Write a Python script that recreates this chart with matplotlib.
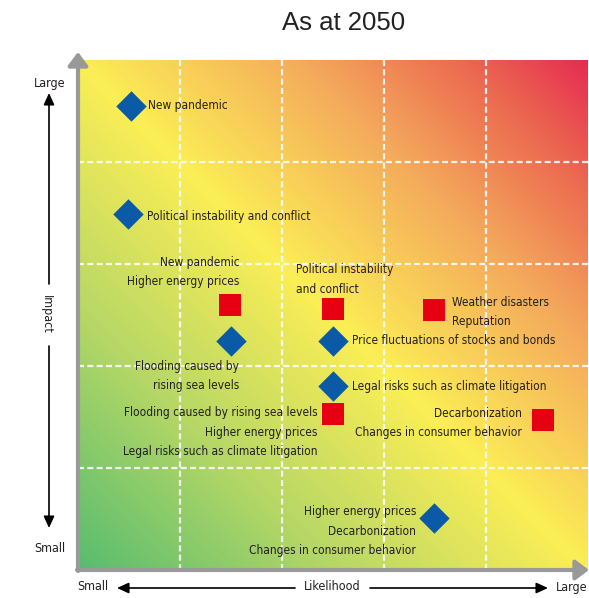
import numpy as np
import matplotlib
matplotlib.use("Agg")
import matplotlib.pyplot as plt
from matplotlib.colors import LinearSegmentedColormap

# ---- data ----
title = "As at 2050"
x_label = "Likelihood"
y_label = "Impact"
low_label = "Small"
high_label = "Large"

blue_x = [0.52, 0.49, 1.50, 2.50, 2.50, 3.49]
blue_y = [4.55, 3.49, 2.25, 2.25, 1.80, 0.51]
blue_labels = [
    "New pandemic",
    "Political instability and conflict",
    "Flooding caused by\nrising sea levels",
    "Price fluctuations of stocks and bonds",
    "Legal risks such as climate litigation",
    "Higher energy prices\nDecarbonization\nChanges in consumer behavior",
]

red_x = [1.49, 2.50, 3.49, 2.50, 4.56]
red_y = [2.60, 2.56, 2.55, 1.53, 1.47]
red_labels = [
    "New pandemic\nHigher energy prices",
    "Political instability\nand conflict",
    "Weather disasters\nReputation",
    "Flooding caused by rising sea levels\nHigher energy prices\nLegal risks such as climate litigation",
    "Decarbonization\nChanges in consumer behavior",
]

# ---- label placement (offsets in points, alignments) ----
blue_place = [
    ((12, 0), "left", "center"),
    ((14, -1.5), "left", "center"),
    ((6, -14), "right", "top"),
    ((14, 0), "left", "center"),
    ((14, 0), "left", "center"),
    ((-13, -9.5), "right", "center"),
]
red_place = [
    ((7, 12), "right", "bottom"),
    ((-27, 9.5), "left", "bottom"),
    ((13, -1.5), "left", "center"),
    ((-11, 5.5), "right", "top"),
    ((-15, -2), "right", "center"),
]

FONT = ["DejaVu Sans"]
plt.rcParams["font.family"] = FONT
plt.rcParams["font.stretch"] = "condensed"

W, H = 589, 598
fig = plt.figure(figsize=(W / 100, H / 100), dpi=100)
L, R, T, B = 78, 588, 60, 570
ax = fig.add_axes([L / W, 1 - B / H, (R - L) / W, (B - T) / H])

# gradient background
n = 400
gx, gy = np.meshgrid(np.linspace(0, 1, n), np.linspace(0, 1, n))
t = (gx + gy) / 2
cmap = LinearSegmentedColormap.from_list(
    "risk",
    [(0.0, "#58bc70"), (0.25, "#b5d766"), (0.5, "#fcee55"),
     (0.72, "#f4aa5c"), (0.88, "#ec6850"), (1.0, "#e62c52")],
)
ax.imshow(t, cmap=cmap, origin="lower", extent=[0, 5, 0, 5], aspect="auto",
          vmin=0, vmax=1, zorder=0)

for v in [1, 2, 3, 4]:
    ax.axvline(v, color="white", lw=1.6, ls=(0, (2.7, 1.5)), alpha=0.9, zorder=1)
    ax.axhline(v, color="white", lw=1.6, ls=(0, (2.7, 1.5)), alpha=0.9, zorder=1)

ax.set_xlim(0, 5)
ax.set_ylim(0, 5)
ax.set_xticks([])
ax.set_yticks([])
for s in ax.spines.values():
    s.set_visible(False)

ax.scatter(blue_x, blue_y, marker="D", s=240, color="#0a5aa8", zorder=3,
           linewidths=0)
ax.scatter(red_x, red_y, marker="s", s=270, color="#e60012", zorder=3,
           linewidths=0)

fs = 8.6
ls = 1.62
for x, y, lab, (off, ha, va) in zip(blue_x, blue_y, blue_labels, blue_place):
    ax.annotate(lab, (x, y), xytext=off, textcoords="offset points",
                ha=ha, va=va, fontsize=fs, color="#231f20",
                linespacing=ls, multialignment=ha, zorder=4)
for x, y, lab, (off, ha, va) in zip(red_x, red_y, red_labels, red_place):
    ax.annotate(lab, (x, y), xytext=off, textcoords="offset points",
                ha=ha, va=va, fontsize=fs, color="#231f20",
                linespacing=ls, multialignment=ha, zorder=4)


# ---- figure-level decorations in pixel coords ----
def fx(px):
    return px / W


def fy(py):
    return 1 - py / H


gray = "#999999"
fig.add_artist(matplotlib.patches.FancyArrowPatch(
    (fx(78), fy(571)), (fx(78), fy(52)), transform=fig.transFigure,
    arrowstyle="-|>,head_length=4,head_width=3", lw=3, color=gray,
    mutation_scale=2, shrinkA=0, shrinkB=0))
fig.add_artist(matplotlib.patches.FancyArrowPatch(
    (fx(77), fy(570)), (fx(589), fy(570)), transform=fig.transFigure,
    arrowstyle="-|>,head_length=4,head_width=3", lw=3, color=gray,
    mutation_scale=2, shrinkA=0, shrinkB=0))


def arrow(p0, p1):
    fig.add_artist(matplotlib.patches.FancyArrowPatch(
        (fx(p0[0]), fy(p0[1])), (fx(p1[0]), fy(p1[1])),
        transform=fig.transFigure,
        arrowstyle="-|>,head_length=3.5,head_width=1.6", lw=1.2,
        color="black", mutation_scale=2, shrinkA=0, shrinkB=0))


arrow((49, 284), (49, 93))
arrow((49, 346), (49, 528))
arrow((295, 588), (117, 588))
arrow((370, 588), (548, 588))

tc = "#231f20"
afs = 9
fig.text(fx(50), fy(84), high_label, ha="center", va="center", fontsize=afs, color=tc)
fig.text(fx(50), fy(548), low_label, ha="center", va="center", fontsize=afs, color=tc)
fig.text(fx(46), fy(314), y_label, ha="center", va="center", fontsize=afs,
         rotation=270, color=tc)
fig.text(fx(93), fy(587), low_label, ha="center", va="center", fontsize=afs, color=tc)
fig.text(fx(332), fy(587), x_label, ha="center", va="center", fontsize=afs, color=tc)
fig.text(fx(572), fy(587), high_label, ha="center", va="center", fontsize=afs, color=tc)

fig.text(fx(344), fy(23), title, ha="center", va="center", fontsize=18.5,
         family=["Liberation Sans", "DejaVu Sans"], fontweight="normal",
         fontstretch="normal", color="#222222")

fig.savefig("out.png", dpi=100)
